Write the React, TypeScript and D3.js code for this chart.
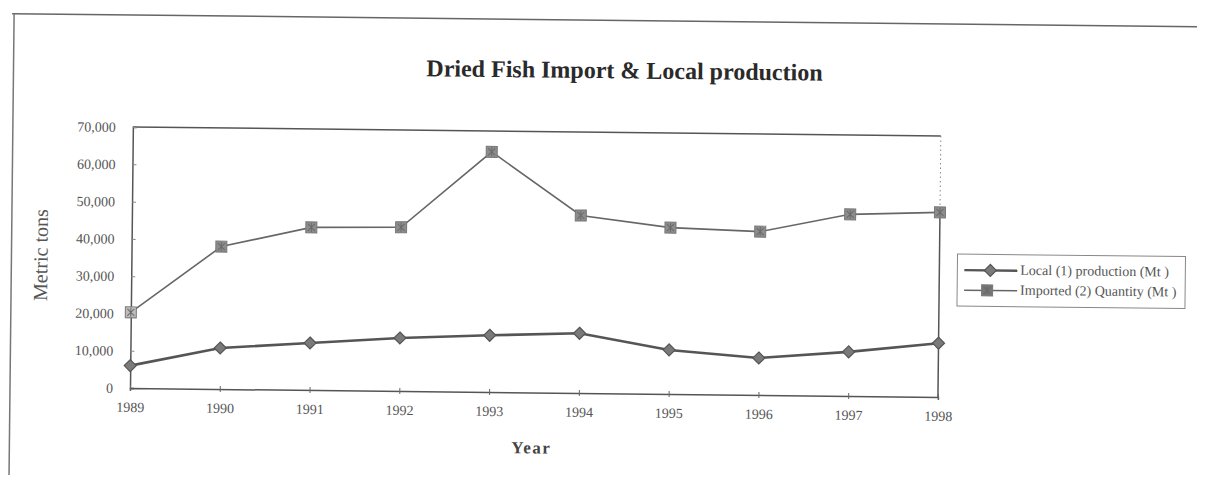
import * as d3 from "d3";
import React, { useEffect, useRef } from "react";

const years: number[] = [1989, 1990, 1991, 1992, 1993, 1994, 1995, 1996, 1997, 1998];
const localProduction: number[] = [6000, 11000, 12600, 14200, 15200, 16000, 11800, 9900, 11800, 14400];
const importedQuantity: number[] = [20300, 38200, 43600, 43900, 64400, 47600, 44600, 43800, 48700, 49500];
const yTicks: number[] = [0, 10000, 20000, 30000, 40000, 50000, 60000, 70000];
const seriesNames: string[] = ["Local (1) production (Mt )", "Imported (2) Quantity (Mt )"];

const serif = "'Liberation Serif', 'DejaVu Serif', serif";

const App = () => {
	const ref = useRef<HTMLDivElement>(null);

	useEffect(() => draw(), []);

	const draw = () => {
		const width = 1205;
		const height = 483;
		const loff = 130;
		const roff = 938;
		const toff = 127;
		const boff = 388;

		d3.select(ref.current).selectAll("svg").remove();

		const svg = d3
			.select(ref.current)
			.append("svg")
			.attr("width", width)
			.attr("height", height)
			.style("display", "block")
			.style("background", "#fff");

		// the scan is tilted a little clockwise
		const g = svg.append("g").attr("transform", `rotate(0.63, ${loff}, ${boff})`);

		// page frame
		g.append("line")
			.attr("x1", 8).attr("x2", 1230)
			.attr("y1", 15).attr("y2", 15)
			.attr("stroke", "#666").attr("stroke-width", 1.5);
		g.append("line")
			.attr("x1", 10).attr("x2", 10)
			.attr("y1", 15).attr("y2", 500)
			.attr("stroke", "#777").attr("stroke-width", 1.5);

		g.append("text")
			.attr("x", 621)
			.attr("y", 73)
			.attr("text-anchor", "middle")
			.attr("font-family", serif)
			.attr("font-weight", "bold")
			.attr("font-size", 24)
			.attr("fill", "#2a2a2a")
			.text("Dried Fish Import & Local production");

		const xScale = d3.scalePoint<number>().domain(years).range([loff, roff]);
		const yScale = d3.scaleLinear().domain([0, 70000]).range([boff, toff]);

		// plot frame top + right
		g.append("line")
			.attr("x1", loff).attr("x2", roff)
			.attr("y1", toff).attr("y2", toff)
			.attr("stroke", "#555").attr("stroke-width", 1.5);
		const lastImp = yScale(importedQuantity[importedQuantity.length - 1]);
		g.append("line")
			.attr("x1", roff).attr("x2", roff)
			.attr("y1", toff).attr("y2", lastImp)
			.attr("stroke", "#888").attr("stroke-width", 1)
			.attr("stroke-dasharray", "1.5,3");
		g.append("line")
			.attr("x1", roff).attr("x2", roff)
			.attr("y1", lastImp).attr("y2", boff)
			.attr("stroke", "#555").attr("stroke-width", 1.5);

		const yAxis = g
			.append("g")
			.attr("transform", `translate(${loff},0)`)
			.call(
				d3.axisLeft(yScale)
					.tickValues(yTicks)
					.tickFormat((d) => d3.format(",")(d as number))
					.tickSize(-4)
					.tickPadding(17)
			);
		yAxis.select(".domain").attr("stroke", "#555").attr("stroke-width", 1.5);
		yAxis.selectAll(".tick line").attr("stroke", "#888");
		yAxis.selectAll(".tick text")
			.attr("font-family", serif)
			.attr("font-size", 14)
			.attr("fill", "#555");

		const xAxis = g
			.append("g")
			.attr("transform", `translate(0,${boff})`)
			.call(d3.axisBottom(xScale).tickSize(3).tickPadding(11));
		xAxis.select(".domain").attr("stroke", "#555").attr("stroke-width", 1.5);
		xAxis.selectAll(".tick line").attr("stroke", "#666").attr("y1", -3);
		xAxis.selectAll(".tick text")
			.attr("font-family", serif)
			.attr("font-size", 14)
			.attr("fill", "#555");

		g.append("text")
			.attr("transform", "translate(46,256) rotate(-90)")
			.attr("text-anchor", "middle")
			.attr("font-family", serif)
			.attr("font-size", 20)
			.attr("fill", "#555")
			.text("Metric tons");

		g.append("text")
			.attr("x", 532)
			.attr("y", 449)
			.attr("text-anchor", "middle")
			.attr("font-family", serif)
			.attr("font-weight", "bold")
			.attr("font-size", 17)
			.attr("letter-spacing", 1.5)
			.attr("fill", "#444")
			.text("Year");

		const line = d3
			.line<number>()
			.x((_, i) => xScale(years[i]) as number)
			.y((d) => yScale(d));

		g.append("path")
			.datum(importedQuantity)
			.attr("fill", "none")
			.attr("stroke", "#666")
			.attr("stroke-width", 1.6)
			.attr("d", line);
		g.append("path")
			.datum(localProduction)
			.attr("fill", "none")
			.attr("stroke", "#555")
			.attr("stroke-width", 2.6)
			.attr("d", line);

		const addSquare = (parent: any, cx: number, cy: number, s: number, fill: string) => {
			const sq = parent.append("g").attr("transform", `translate(${cx},${cy})`);
			sq.append("rect")
				.attr("x", -s / 2).attr("y", -s / 2)
				.attr("width", s).attr("height", s)
				.attr("fill", fill)
				.attr("stroke", "#777")
				.attr("stroke-width", 1);
			sq.append("path")
				.attr("d", `M${-s / 2 + 2},${-s / 2 + 2}L${s / 2 - 2},${s / 2 - 2}M${s / 2 - 2},${-s / 2 + 2}L${-s / 2 + 2},${s / 2 - 2}M0,${-s / 2 + 1}V${s / 2 - 1}`)
				.attr("stroke", "#6a6a6a")
				.attr("stroke-width", 1);
		};
		const addDiamond = (parent: any, cx: number, cy: number, r: number) => {
			parent.append("path")
				.attr("transform", `translate(${cx},${cy})`)
				.attr("d", `M0,${-r}L${r},0L0,${r}L${-r},0Z`)
				.attr("fill", "#7a7a7a")
				.attr("stroke", "#555")
				.attr("stroke-width", 1.2);
		};

		importedQuantity.forEach((v, i) =>
			addSquare(g, xScale(years[i]) as number, yScale(v), 11, i === 0 ? "#bdbdbd" : "#8c8c8c")
		);
		localProduction.forEach((v, i) =>
			addDiamond(g, xScale(years[i]) as number, yScale(v), 6)
		);

		// legend
		const lg = g.append("g").attr("transform", "translate(956,245)");
		lg.append("rect")
			.attr("width", 228).attr("height", 52)
			.attr("fill", "#fff")
			.attr("stroke", "#888").attr("stroke-width", 1);
		const rows = [16, 36];
		rows.forEach((ry, i) => {
			lg.append("line")
				.attr("x1", 7).attr("x2", 60)
				.attr("y1", ry).attr("y2", ry)
				.attr("stroke", i === 0 ? "#555" : "#666")
				.attr("stroke-width", i === 0 ? 2.4 : 1.5);
			if (i === 0) addDiamond(lg, 33, ry, 6);
			else addSquare(lg, 30, ry, 11, "#777");
			lg.append("text")
				.attr("x", 63)
				.attr("y", ry + 4)
				.attr("font-family", serif)
				.attr("font-size", 14)
				.attr("fill", "#555")
				.text(seriesNames[i]);
		});
	};

	return <div ref={ref} style={{ margin: -8 }}></div>;
};

export default App;
